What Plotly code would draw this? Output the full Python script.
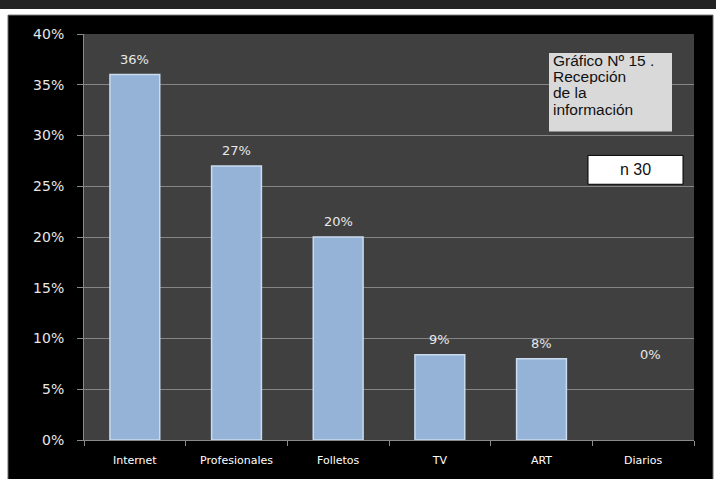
import plotly.graph_objects as go

categories = ["Internet", "Profesionales", "Folletos", "TV", "ART", "Diarios"]
values = [0.36, 0.27, 0.20, 0.084, 0.08, 0.0]
value_labels = ["36%", "27%", "20%", "9%", "8%", "0%"]
y_ticks = [0, 0.05, 0.10, 0.15, 0.20, 0.25, 0.30, 0.35, 0.40]
title_lines = ["Gráfico Nº 15 .", "Recepción", "de la", "información"]
n_text = "n 30"

W, H = 716, 479
L, R, T, B = 84, 22, 34, 37
pw, ph = W - L - R, H - T - B
FONT = "DejaVu Sans, sans-serif"
ARIAL = "Liberation Sans, Arial, sans-serif"

def px(x):
    return (x - L) / pw

def py(y):
    return (H - B - y) / ph

line_widths = [1.5 if v > 0 else 0 for v in values]

fig = go.Figure()
fig.add_trace(go.Bar(
    x=categories, y=values, width=0.49,
    marker=dict(color="#95b3d7", line=dict(color="#c9dbef", width=line_widths)),
    hoverinfo="skip",
))

annotations = []
for c, v, t in zip(categories, values, value_labels):
    yv = v if v > 0 else 0.083
    annotations.append(dict(xref="x", yref="y", x=c, y=yv, text=t, showarrow=False,
                            yanchor="bottom", yshift=6 if v > 0 else -8,
                            xshift=0 if v > 0 else 7,
                            font=dict(family=FONT, size=13, color="#e8e8e8")))

centers = [61, 77, 93, 109.5]
for line, cy in zip(title_lines, centers):
    annotations.append(dict(xref="paper", yref="paper", x=px(552), y=py(cy),
                            xanchor="left", yanchor="middle", text=line, showarrow=False,
                            height=15, borderpad=0,
                            font=dict(family=ARIAL, size=15.5, color="#111111")))
annotations.append(dict(xref="paper", yref="paper", x=px(635.5), y=py(170.5),
                        xanchor="center", yanchor="middle", text=n_text, showarrow=False,
                        font=dict(family=ARIAL, size=16, color="#111111")))

fig.update_layout(
    width=W, height=H,
    margin=dict(l=L, r=R, t=T, b=B, pad=0),
    paper_bgcolor="#ffffff", plot_bgcolor="rgba(0,0,0,0)",
    showlegend=False, bargap=0.51,
    font=dict(family=FONT, color="#e8e8e8"),
    xaxis=dict(
        type="category", showgrid=False, ticks="outside", tickson="boundaries",
        ticklen=5, tickcolor="#8a8a8a", showline=True, linecolor="#8a8a8a", linewidth=1,
        ticklabelstandoff=10,
        tickfont=dict(family=FONT, size=11, color="#ffffff"),
        fixedrange=True,
    ),
    yaxis=dict(
        range=[0, 0.40], tickvals=y_ticks, tickformat=".0%",
        showgrid=True, gridcolor="#858585", gridwidth=1,
        ticks="outside", ticklen=6, tickcolor="#8a8a8a",
        showline=True, linecolor="#8a8a8a", linewidth=1,
        zeroline=False, ticklabelstandoff=10,
        tickfont=dict(family=FONT, size=14, color="#e6e6e6"),
        fixedrange=True,
    ),
    shapes=[
        dict(type="rect", xref="paper", yref="paper", layer="below",
             x0=px(-2), x1=px(W + 2), y0=py(9), y1=py(-2), fillcolor="#232323", line=dict(width=0)),
        dict(type="rect", xref="paper", yref="paper", layer="below",
             x0=px(8), x1=px(713), y0=py(H + 5), y1=py(15), fillcolor="#000000",
             line=dict(color="#6a6a6a", width=1)),
        dict(type="rect", xref="paper", yref="paper", layer="below",
             x0=0, x1=1, y0=0, y1=1, fillcolor="#404040", line=dict(width=0)),
        dict(type="rect", xref="paper", yref="paper", layer="above",
             x0=px(549), x1=px(672), y0=py(132), y1=py(53), fillcolor="#d9d9d9",
             line=dict(width=0)),
        dict(type="rect", xref="paper", yref="paper", layer="above",
             x0=px(588), x1=px(683), y0=py(185), y1=py(156), fillcolor="#ffffff",
             line=dict(color="#000000", width=1)),
    ],
    annotations=annotations,
)

fig.write_html("out.html", config={"displayModeBar": False},
               post_script="document.body.style.margin='0';document.body.style.padding='0';")
